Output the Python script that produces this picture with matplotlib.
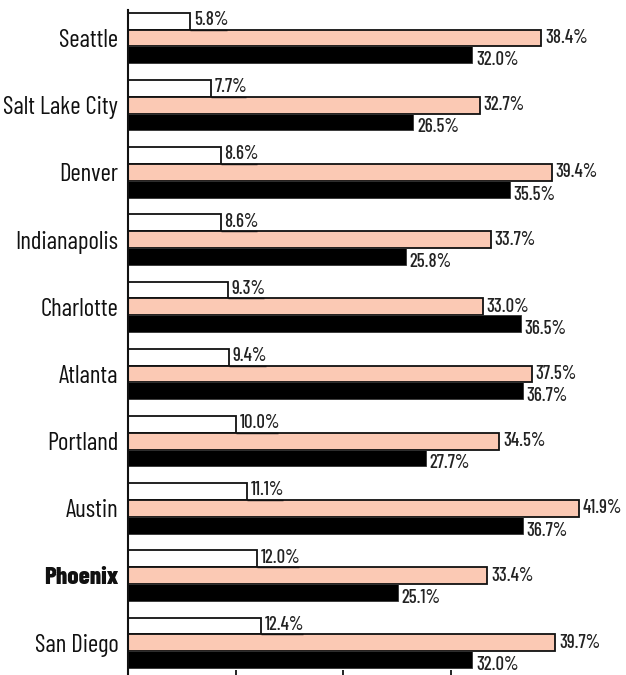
import matplotlib
matplotlib.use("Agg")
import matplotlib.pyplot as plt
import numpy as np

cities = ["Seattle", "Salt Lake City", "Denver", "Indianapolis", "Charlotte",
          "Atlanta", "Portland", "Austin", "Phoenix", "San Diego"]
series_a = [5.8, 7.7, 8.6, 8.6, 9.3, 9.4, 10.0, 11.1, 12.0, 12.4]      # white
series_b = [38.4, 32.7, 39.4, 33.7, 33.0, 37.5, 34.5, 41.9, 33.4, 39.7]  # salmon
series_c = [32.0, 26.5, 35.5, 25.8, 36.5, 36.7, 27.7, 36.7, 25.1, 32.0]  # black
highlight = "Phoenix"
xticks = [0, 10, 20, 30]

FONT = ["Barlow Condensed", "DejaVu Sans"]
plt.rcParams['font.family'] = FONT

fig = plt.figure(figsize=(6.26, 6.75), dpi=100)
ax = fig.add_axes([128/626, 5/675, 1 - 128/626, 660/675])

y = np.arange(len(cities))
h = 0.25
salmon = "#FBC9B4"

ax.barh(y - h, series_a, height=h, color="white", edgecolor="#111111", linewidth=1.3)
ax.barh(y, series_b, height=h, color=salmon, edgecolor="#111111", linewidth=1.3)
ax.barh(y + h, series_c, height=h, color="black", edgecolor="#333333", linewidth=0.6)

lab_fs = 13.5
fig.canvas.draw()
renderer = fig.canvas.get_renderer()
for i in range(len(cities)):
    t = ax.text(series_a[i] + 0.35, y[i] - h + h/2 - 0.01, f"{series_a[i]:.1f}%",
                va="bottom", ha="left", fontsize=lab_fs, color="#222222", fontweight=500)
    bb = t.get_window_extent(renderer=renderer)
    x_end = ax.transData.inverted().transform((bb.x1, 0))[0]
    ax.plot([series_a[i], x_end], [y[i] - h + h/2, y[i] - h + h/2],
            color="#111111", lw=1.0, solid_capstyle="butt")
    ax.text(series_b[i] + 0.35, y[i], f"{series_b[i]:.1f}%",
            va="center", ha="left", fontsize=lab_fs, color="#222222", fontweight=500)
    ax.text(series_c[i] + 0.35, y[i] + h + 0.08, f"{series_c[i]:.1f}%",
            va="center", ha="left", fontsize=lab_fs, color="#222222", fontweight=500)

ax.set_xlim(0, (626 - 128) / 10.76)
ax.set_ylim(9.405, -0.417)
ax.set_yticks(y)
ax.set_yticklabels(cities, fontsize=18)
for lbl in ax.get_yticklabels():
    lbl.set_color("#111111")
    if lbl.get_text() == highlight:
        lbl.set_fontweight(800)
ax.tick_params(axis="y", length=0, pad=7)
ax.set_xticks(xticks)
ax.set_xticklabels([])
ax.tick_params(axis="x", direction="out", length=5, width=1.3, color="#111111")
for s in ["top", "right", "bottom"]:
    ax.spines[s].set_visible(False)
ax.spines["left"].set_linewidth(1.5)
ax.spines["left"].set_color("#111111")
ax.spines["left"].set_bounds(9.405 + 0.1, -0.417)
for b in ax.patches:
    b.set_clip_on(False)

fig.savefig("out.png", dpi=100)
